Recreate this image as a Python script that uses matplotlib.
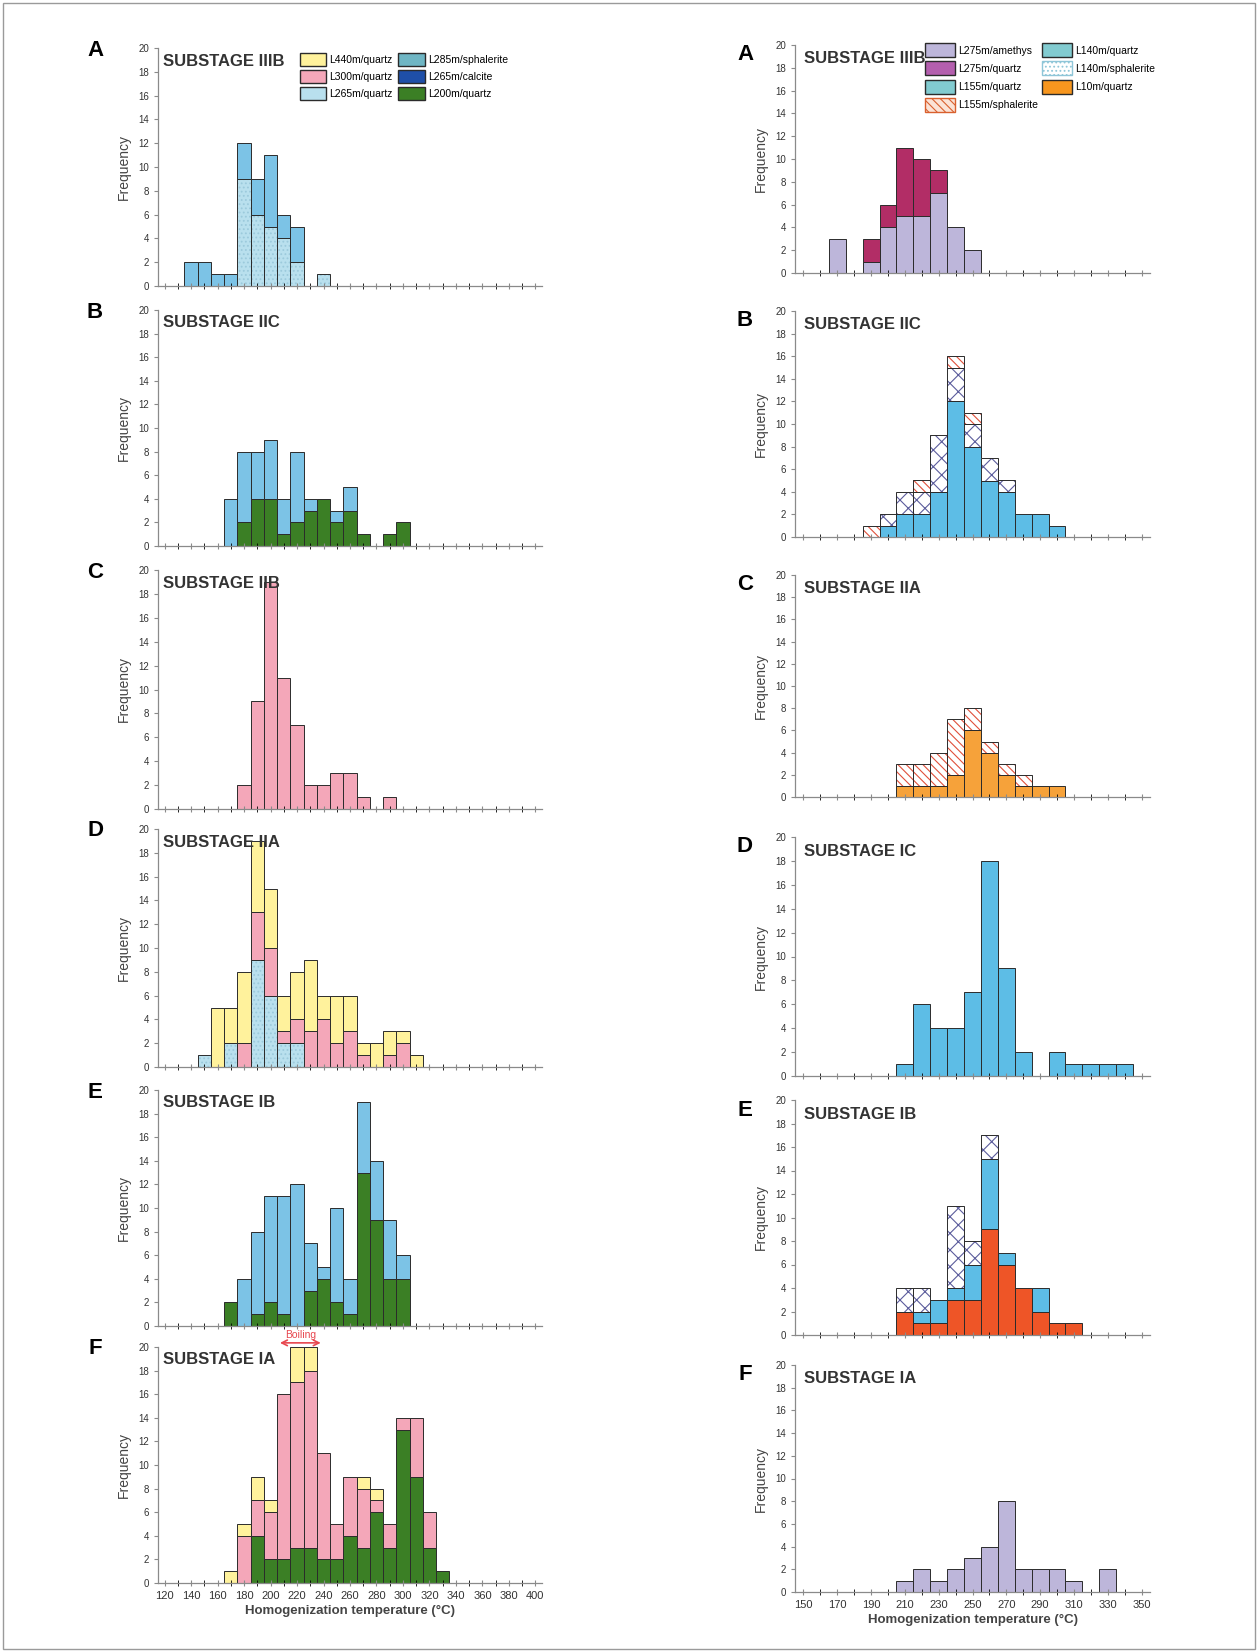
import numpy as np
import matplotlib
matplotlib.use("Agg")
import matplotlib.pyplot as plt
from matplotlib.patches import Patch, Rectangle

plt.rcParams['font.family'] = ['Liberation Sans', 'DejaVu Sans']
plt.rcParams['hatch.linewidth'] = 0.8

######## Data ################################################################

# left column (temperatures 120-400 C, 10 C bins)
LA_bins = [140, 150, 160, 170, 180, 190, 200, 210, 220, 230, 240]
LA_q265 = [0, 0, 0, 0, 9, 6, 5, 4, 2, 0, 1]
LA_sph285 = [2, 2, 1, 1, 3, 3, 6, 2, 3, 0, 0]

LB_bins = [170, 180, 190, 200, 210, 220, 230, 240, 250, 260, 270, 280, 290, 300]
LB_q200 = [0, 2, 4, 4, 1, 2, 3, 4, 2, 3, 1, 0, 1, 2]
LB_blue = [4, 6, 4, 5, 3, 6, 1, 0, 1, 2, 0, 0, 0, 0]

LC_bins = [180, 190, 200, 210, 220, 230, 240, 250, 260, 270, 280, 290]
LC_q300 = [2, 9, 19, 11, 7, 2, 2, 3, 3, 1, 0, 1]

LD_bins = [150, 160, 170, 180, 190, 200, 210, 220, 230, 240, 250, 260, 270, 280, 290, 300, 310]
LD_q265 = [1, 0, 2, 0, 9, 6, 2, 2, 0, 0, 0, 0, 0, 0, 0, 0, 0]
LD_q300 = [0, 0, 0, 2, 4, 4, 1, 2, 3, 4, 2, 3, 1, 0, 1, 2, 0]
LD_q440 = [0, 5, 3, 6, 6, 5, 3, 4, 6, 2, 4, 3, 1, 2, 2, 1, 1]

LE_bins = [170, 180, 190, 200, 210, 220, 230, 240, 250, 260, 270, 280, 290, 300]
LE_q200 = [2, 0, 1, 2, 1, 0, 3, 4, 2, 1, 13, 9, 4, 4]
LE_blue = [0, 4, 7, 9, 10, 12, 4, 1, 8, 3, 6, 5, 5, 2]

LF_bins = [170, 180, 190, 200, 210, 220, 230, 240, 250, 260, 270, 280, 290, 300, 310, 320, 330]
LF_q200 = [0, 0, 4, 2, 2, 3, 3, 2, 2, 4, 3, 6, 3, 13, 9, 3, 1]
LF_q300 = [0, 4, 3, 4, 14, 14, 15, 9, 3, 5, 5, 1, 2, 1, 5, 3, 0]
LF_q440 = [1, 1, 2, 1, 0, 3, 2, 0, 0, 0, 1, 1, 0, 0, 0, 0, 0]

# right column (temperatures 150-350 C, 10 C bins)
RA_bins = [170, 180, 190, 200, 210, 220, 230, 240, 250]
RA_amethyst = [3, 0, 1, 4, 5, 5, 7, 4, 2]
RA_q275 = [0, 0, 2, 2, 6, 5, 2, 0, 0]

RB_bins = [190, 200, 210, 220, 230, 240, 250, 260, 270, 280, 290, 300]
RB_q140 = [0, 1, 2, 2, 4, 12, 8, 5, 4, 2, 2, 1]
RB_sph140 = [0, 1, 2, 2, 5, 3, 2, 2, 1, 0, 0, 0]
RB_sph155 = [1, 0, 0, 1, 0, 1, 1, 0, 0, 0, 0, 0]

RC_bins = [210, 220, 230, 240, 250, 260, 270, 280, 290, 300]
RC_q10 = [1, 1, 1, 2, 6, 4, 2, 1, 1, 1]
RC_sph155 = [2, 2, 3, 5, 2, 1, 1, 1, 0, 0]

RD_bins = [210, 220, 230, 240, 250, 260, 270, 280, 290, 300, 310, 320, 330, 340]
RD_q140 = [1, 6, 4, 4, 7, 18, 9, 2, 0, 2, 1, 1, 1, 1]

RE_bins = [210, 220, 230, 240, 250, 260, 270, 280, 290, 300, 310]
RE_red = [2, 1, 1, 3, 3, 9, 6, 4, 2, 1, 1]
RE_q140 = [0, 1, 2, 1, 3, 6, 1, 0, 2, 0, 0]
RE_sph140 = [2, 2, 0, 7, 2, 2, 0, 0, 0, 0, 0]

RF_bins = [210, 220, 230, 240, 250, 260, 270, 280, 290, 300, 310, 320, 330]
RF_amethyst = [1, 2, 1, 2, 3, 4, 8, 2, 2, 2, 1, 0, 2]

######## Styles ##############################################################

EDGE = '#2b2b2b'
YELLOW = '#fff29c'
PINK = '#f4a7b9'
LIGHTBLUE = '#b9e0ee'
MIDBLUE = '#7cc3e6'
TEAL = '#6fb6c4'
DARKBLUE = '#1f4fa8'
GREEN = '#3b7f25'
LAVENDER = '#bdb6da'
MAGENTA = '#b22d66'
SKY = '#5dbde6'
ORANGE = '#f6a23a'
REDORANGE = '#ee5527'
TEAL2 = '#82cbd0'

styles = {
    'q440': dict(color=YELLOW),
    'q300': dict(color=PINK),
    'q265': dict(color=LIGHTBLUE, hatch='....', hatchc='#9ccadc'),
    'sph285': dict(color=MIDBLUE),
    'q200': dict(color=GREEN),
    'blue': dict(color=MIDBLUE),
    'amethyst': dict(color=LAVENDER),
    'q275': dict(color=MAGENTA),
    'sky': dict(color=SKY),
    'sph140': dict(color='white', hatch='xx', hatchc='#5b5c9c'),
    'sph155': dict(color='white', hatch='\\\\\\\\', hatchc='#e0503a'),
    'q10': dict(color=ORANGE),
    'red': dict(color=REDORANGE),
}


def stack(ax, bins, layers):
    bins = np.array(bins)
    bottom = np.zeros(len(bins))
    for vals, key in layers:
        vals = np.array(vals, dtype=float)
        st = styles[key]
        m = vals > 0
        if 'hatch' in st:
            ax.bar(bins[m], vals[m], width=10, bottom=bottom[m], color=st['color'],
                   edgecolor=st['hatchc'], hatch=st['hatch'], linewidth=0)
            ax.bar(bins[m], vals[m], width=10, bottom=bottom[m], fill=False,
                   edgecolor=EDGE, linewidth=0.7)
        else:
            ax.bar(bins[m], vals[m], width=10, bottom=bottom[m], color=st['color'],
                   edgecolor=EDGE, linewidth=0.7)
        bottom += vals


W, H = 1258, 1652
fig = plt.figure(figsize=(W / 100, H / 100), dpi=100)
fig.patches.append(Rectangle((3 / W, 3 / H), 1 - 6 / W, 1 - 6 / H, transform=fig.transFigure,
                             fill=False, edgecolor='#9a9a9a', linewidth=1))


def make_axes(x0, x1, top, bottom, side):
    ax = fig.add_axes([x0 / W, 1 - bottom / H, (x1 - x0) / W, (bottom - top) / H])
    for s in ['top', 'right']:
        ax.spines[s].set_visible(False)
    for s in ['left', 'bottom']:
        ax.spines[s].set_color('#8a8a8a')
        ax.spines[s].set_linewidth(0.9)
    ax.set_ylim(0, 20)
    ax.set_yticks(np.arange(0, 21, 2))
    if side == 'left':
        ax.set_xlim(115, 405)
        ax.set_xticks(np.arange(120, 401, 20))
        ax.set_xticks(np.arange(130, 400, 20), minor=True)
    else:
        ax.set_xlim(145, 355)
        ax.set_xticks(np.arange(150, 351, 20))
        ax.set_xticks(np.arange(160, 350, 20), minor=True)
    ax.tick_params(axis='both', colors='#8a8a8a', labelcolor='#333333', labelsize=7,
                   length=3, width=0.8)
    ax.tick_params(axis='x', which='both', direction='inout', length=4, labelsize=8)
    ax.set_ylabel('Frequency', fontsize=10, color='#444444', labelpad=5)
    ax.set_xticklabels([])
    return ax


left_rows = [(48, 286), (310, 546), (570, 809), (829, 1067), (1090, 1326), (1347, 1583)]
right_rows = [(45, 273), (311, 537), (575, 797), (837, 1076), (1100, 1335), (1365, 1592)]
letters = ['A', 'B', 'C', 'D', 'E', 'F']
left_titles = ['SUBSTAGE IIIB', 'SUBSTAGE IIC', 'SUBSTAGE IIB', 'SUBSTAGE IIA',
               'SUBSTAGE IB', 'SUBSTAGE IA']
right_titles = ['SUBSTAGE IIIB', 'SUBSTAGE IIC', 'SUBSTAGE IIA', 'SUBSTAGE IC',
                'SUBSTAGE IB', 'SUBSTAGE IA']

left_axes = [make_axes(158, 542, t, b, 'left') for t, b in left_rows]
right_axes = [make_axes(795, 1150, t, b, 'right') for t, b in right_rows]

for i, ax in enumerate(left_axes):
    ax.text(0.012, 0.945, left_titles[i], transform=ax.transAxes, fontsize=12,
            fontweight='bold', color='#333333', va='center', ha='left')
    fig.text(95 / W, 1 - (left_rows[i][0] + 2) / H, letters[i], fontsize=16,
             fontweight='bold', ha='center', va='center')
for i, ax in enumerate(right_axes):
    ax.text(0.025, 0.94, right_titles[i], transform=ax.transAxes, fontsize=12,
            fontweight='bold', color='#333333', va='center', ha='left')
    fig.text(745 / W, 1 - (right_rows[i][0] + 10) / H, letters[i], fontsize=16,
             fontweight='bold', ha='center', va='center')

######## Left column ########################################################

stack(left_axes[0], LA_bins, [(LA_q265, 'q265'), (LA_sph285, 'sph285')])
stack(left_axes[1], LB_bins, [(LB_q200, 'q200'), (LB_blue, 'blue')])
stack(left_axes[2], LC_bins, [(LC_q300, 'q300')])
stack(left_axes[3], LD_bins, [(LD_q265, 'q265'), (LD_q300, 'q300'), (LD_q440, 'q440')])
stack(left_axes[4], LE_bins, [(LE_q200, 'q200'), (LE_blue, 'blue')])
stack(left_axes[5], LF_bins, [(LF_q200, 'q200'), (LF_q300, 'q300'), (LF_q440, 'q440')])

left_handles = [
    Patch(facecolor=YELLOW, edgecolor=EDGE, label='L440m/quartz'),
    Patch(facecolor=PINK, edgecolor=EDGE, label='L300m/quartz'),
    Patch(facecolor=LIGHTBLUE, edgecolor=EDGE, label='L265m/quartz'),
    Patch(facecolor=TEAL, edgecolor=EDGE, label='L285m/sphalerite'),
    Patch(facecolor=DARKBLUE, edgecolor=EDGE, label='L265m/calcite'),
    Patch(facecolor=GREEN, edgecolor=EDGE, label='L200m/quartz'),
]
left_axes[0].legend(handles=left_handles, ncol=2, loc='upper left',
                    bbox_to_anchor=(0.35, 1.01), frameon=False, fontsize=7.5,
                    handlelength=2.5, handleheight=1.6, columnspacing=0.6,
                    handletextpad=0.3, labelspacing=0.35, borderpad=0.2)

# Boiling marker
axf = left_axes[5]
axf.annotate('', xy=(205, 20.35), xytext=(240, 20.35), annotation_clip=False,
             arrowprops=dict(arrowstyle='<->', color='#e8474f', lw=1.2))
axf.text(222.5, 21.0, 'Boiling', color='#e8474f', fontsize=7.5, ha='center', va='center',
         clip_on=False)
axf.set_xticklabels([str(v) for v in range(120, 401, 20)])
axf.set_xlabel('Homogenization temperature (\u00b0C)', fontsize=9.5, fontweight='bold',
               color='#444444', labelpad=3)

######## Right column #######################################################

stack(right_axes[0], RA_bins, [(RA_amethyst, 'amethyst'), (RA_q275, 'q275')])
stack(right_axes[1], RB_bins, [(RB_q140, 'sky'), (RB_sph140, 'sph140'), (RB_sph155, 'sph155')])
stack(right_axes[2], RC_bins, [(RC_q10, 'q10'), (RC_sph155, 'sph155')])
stack(right_axes[3], RD_bins, [(RD_q140, 'sky')])
stack(right_axes[4], RE_bins, [(RE_red, 'red'), (RE_q140, 'sky'), (RE_sph140, 'sph140')])
stack(right_axes[5], RF_bins, [(RF_amethyst, 'amethyst')])

right_handles = [
    Patch(facecolor=LAVENDER, edgecolor=EDGE, label='L275m/amethys'),
    Patch(facecolor='#b45fae', edgecolor=EDGE, label='L275m/quartz'),
    Patch(facecolor=TEAL2, edgecolor=EDGE, label='L155m/quartz'),
    Patch(facecolor='#fbe3d6', edgecolor='#d9602e', hatch='\\\\\\\\', label='L155m/sphalerite'),
    Patch(facecolor=TEAL2, edgecolor=EDGE, label='L140m/quartz'),
    Patch(facecolor='white', edgecolor='#8fc6d8', hatch='....', label='L140m/sphalerite'),
    Patch(facecolor='#f7961e', edgecolor=EDGE, label='L10m/quartz'),
]
right_axes[0].legend(handles=right_handles, ncol=2, loc='upper left',
                     bbox_to_anchor=(0.345, 1.04), frameon=False, fontsize=7.5,
                     handlelength=2.9, handleheight=1.7, columnspacing=0.4,
                     handletextpad=0.3, labelspacing=0.4, borderpad=0.2)

axr = right_axes[5]
axr.set_xticklabels([str(v) for v in range(150, 351, 20)])
axr.set_xlabel('Homogenization temperature (\u00b0C)', fontsize=9.5, fontweight='bold',
               color='#444444', labelpad=3)

fig.savefig('out.png', dpi=100, facecolor='white')
